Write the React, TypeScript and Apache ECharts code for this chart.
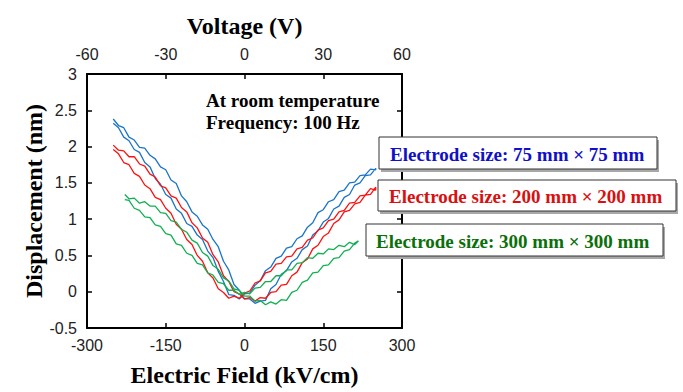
import React, { useEffect, useRef } from "react";
import * as echarts from "echarts";

// Electric field sample positions (kV/cm)
const fieldBR: number[] = [
  -250, -240, -230, -220, -210, -200, -190, -180, -170, -160, -150, -140, -130, -120, -110, -100,
  -90, -80, -70, -60, -50, -40, -30, -20, -10, 0, 10, 20, 30, 40, 50, 60, 70, 80, 90, 100,
  110, 120, 130, 140, 150, 160, 170, 180, 190, 200, 210, 220, 230, 240, 250,
];
const fieldG: number[] = [
  -228, -220, -210, -200, -190, -180, -170, -160, -150, -140, -130, -120, -110, -100,
  -90, -80, -70, -60, -50, -40, -30, -20, -10, 0, 10, 20, 30, 40, 50, 60, 70, 80, 90, 100,
  110, 120, 130, 140, 150, 160, 170, 180, 190, 200, 210, 217,
];

// 75 mm x 75 mm (nm) : sweep to +E, then back to -E
const blueGo: number[] = [
  2.38, 2.29, 2.26, 2.13, 2.09, 1.99, 1.98, 1.88, 1.83, 1.72, 1.68, 1.54, 1.49, 1.32, 1.24, 1.1,
  1.04, 0.92, 0.86, 0.72, 0.62, 0.42, 0.3, 0.1, 0.02, -0.1, -0.1, -0.16, -0.13, -0.12, 0.04, 0.1,
  0.24, 0.29, 0.41, 0.46, 0.58, 0.63, 0.78, 0.84, 0.96, 1.01, 1.14, 1.18, 1.3, 1.34, 1.47, 1.5,
  1.6, 1.61, 1.7,
];
const blueBack: number[] = [
  2.32, 2.26, 2.13, 2.08, 1.96, 1.92, 1.78, 1.72, 1.56, 1.48, 1.34, 1.29, 1.14, 1.08, 0.94, 0.9,
  0.78, 0.72, 0.56, 0.47, 0.28, 0.14, -0.04, -0.05, -0.1, -0.03, -0.02, 0.09, 0.15, 0.29, 0.34,
  0.46, 0.49, 0.6, 0.62, 0.73, 0.77, 0.89, 0.95, 1.09, 1.13, 1.24, 1.27, 1.38, 1.4, 1.5, 1.51,
  1.6, 1.61, 1.69, 1.68,
];

// 200 mm x 200 mm (nm)
const redGo: number[] = [
  2.02, 1.95, 1.94, 1.86, 1.86, 1.76, 1.73, 1.62, 1.58, 1.46, 1.43, 1.32, 1.29, 1.16, 1.1, 0.95,
  0.88, 0.74, 0.68, 0.51, 0.41, 0.22, 0.14, 0.0, -0.03, -0.1, -0.08, -0.13, -0.08, -0.09, -0.01,
  0.0, 0.09, 0.1, 0.22, 0.27, 0.4, 0.45, 0.59, 0.64, 0.76, 0.81, 0.94, 0.99, 1.1, 1.12, 1.21,
  1.23, 1.33, 1.34, 1.44,
];
const redBack: number[] = [
  1.96, 1.9, 1.78, 1.75, 1.63, 1.59, 1.47, 1.42, 1.3, 1.27, 1.15, 1.08, 0.93, 0.86, 0.72, 0.65,
  0.5, 0.42, 0.26, 0.19, 0.04, -0.01, -0.09, -0.06, -0.09, -0.02, 0.01, 0.12, 0.15, 0.26, 0.28,
  0.38, 0.39, 0.48, 0.49, 0.59, 0.61, 0.71, 0.74, 0.85, 0.88, 0.98, 1.0, 1.1, 1.12, 1.22, 1.23,
  1.32, 1.33, 1.42, 1.4,
];

// 300 mm x 300 mm (nm)
const greenGo: number[] = [
  1.34, 1.28, 1.29, 1.22, 1.24, 1.18, 1.18, 1.09, 1.08, 0.98, 0.96, 0.86, 0.82, 0.71, 0.67, 0.54,
  0.49, 0.36, 0.31, 0.19, 0.15, 0.04, 0.02, -0.06, -0.06, -0.13, -0.12, -0.18, -0.14, -0.17,
  -0.11, -0.12, -0.01, 0.02, 0.13, 0.16, 0.26, 0.27, 0.36, 0.37, 0.46, 0.47, 0.56, 0.58, 0.67, 0.7,
];
const greenBack: number[] = [
  1.27, 1.26, 1.15, 1.12, 1.03, 1.02, 0.92, 0.9, 0.8, 0.78, 0.66, 0.64, 0.53, 0.5, 0.39, 0.37,
  0.26, 0.23, 0.13, 0.11, 0.02, 0.02, -0.04, -0.01, -0.03, 0.05, 0.06, 0.14, 0.14, 0.22, 0.22,
  0.3, 0.3, 0.39, 0.4, 0.47, 0.46, 0.53, 0.52, 0.59, 0.58, 0.64, 0.62, 0.68, 0.65, 0.7,
];

const seriesNames: string[] = ["75 mm × 75 mm", "200 mm × 200 mm", "300 mm × 300 mm"];
const legendTexts: string[] = [
  "Electrode size: 75 mm × 75 mm",
  "Electrode size: 200 mm × 200 mm",
  "Electrode size: 300 mm × 300 mm",
];
const fieldTicks = { min: -300, max: 300, interval: 150 };
const voltageTicks = { min: -60, max: 60, interval: 30 };
const dispTicks = { min: -0.5, max: 3, interval: 0.5 };

function loop(x: number[], go: number[], back: number[]): number[][] {
  const out: number[][] = [];
  for (let i = 0; i < x.length; i++) out.push([x[i], go[i]]);
  for (let i = x.length - 1; i >= 0; i--) out.push([x[i], back[i]]);
  return out;
}

const TICK_FONT = "'Liberation Sans Narrow', 'Liberation Sans', Arial, sans-serif";
const TITLE_FONT = "'Liberation Serif', 'Times New Roman', serif";

export default function App() {
  const ref = useRef<HTMLDivElement>(null);
  useEffect(() => {
    if (!ref.current) return;
    const chart = echarts.init(ref.current, null, { renderer: "svg" });
    const axisLabel = { fontFamily: TICK_FONT, fontSize: 16, color: "#222" };
    const axisLine = { show: true, onZero: false, lineStyle: { color: "#000", width: 2 } };
    const axisTick = { show: true, inside: true, length: 5, lineStyle: { color: "#000", width: 1.5 } };
    const nameStyle = { fontFamily: TITLE_FONT, fontWeight: "bold" as const, fontSize: 24, color: "#000" };

    const boxes = [
      { x: 379, y: 137, w: 278, h: 32, color: "#1010C8", tx: 390 },
      { x: 378, y: 180, w: 298, h: 31, color: "#D81010", tx: 389 },
      { x: 366, y: 224, w: 297, h: 32, color: "#0A700A", tx: 376 },
    ];
    const graphics: any[] = [];
    boxes.forEach((b, i) => {
      graphics.push({
        type: "rect",
        z: 100,
        shape: { x: b.x + 2, y: b.y + 3, width: b.w, height: b.h },
        style: { fill: "#a8a8a8" },
      });
      graphics.push({
        type: "rect",
        z: 101,
        shape: { x: b.x, y: b.y, width: b.w, height: b.h },
        style: { fill: "#fff", stroke: "#333", lineWidth: 1 },
      });
      graphics.push({
        type: "text",
        z: 102,
        x: b.tx,
        y: b.y + b.h / 2 + 1,
        style: {
          text: legendTexts[i],
          font: `bold 19px ${TITLE_FONT}`,
          fill: b.color,
          verticalAlign: "middle",
        },
      });
    });
    graphics.push({
      type: "text",
      z: 50,
      x: 206,
      y: 100,
      style: { text: "At room temperature", font: `bold 19px ${TITLE_FONT}`, fill: "#000", verticalAlign: "middle" },
    });
    graphics.push({
      type: "text",
      z: 50,
      x: 206,
      y: 122,
      style: { text: "Frequency: 100 Hz", font: `bold 19px ${TITLE_FONT}`, fill: "#000", verticalAlign: "middle" },
    });

    chart.setOption({
      animation: false,
      grid: { left: 87, top: 74, width: 315, height: 258, containLabel: false },
      xAxis: [
        {
          type: "value",
          position: "bottom",
          ...fieldTicks,
          name: "Electric Field (kV/cm)",
          nameLocation: "middle",
          nameGap: 35,
          nameTextStyle: nameStyle,
          axisLine,
          axisTick,
          axisLabel: { ...axisLabel, margin: 9 },
          splitLine: { show: false },
        },
        {
          type: "value",
          position: "top",
          ...voltageTicks,
          name: "Voltage (V)",
          nameLocation: "middle",
          nameGap: 36,
          nameTextStyle: nameStyle,
          axisLine,
          axisTick,
          axisLabel: { ...axisLabel, margin: 12 },
          splitLine: { show: false },
        },
      ],
      yAxis: [
        {
          type: "value",
          position: "left",
          ...dispTicks,
          name: "Displacement (nm)",
          nameLocation: "middle",
          nameGap: 40,
          nameTextStyle: nameStyle,
          axisLine,
          axisTick,
          axisLabel: { ...axisLabel, margin: 10 },
          splitLine: { show: false },
        },
        {
          type: "value",
          position: "right",
          ...dispTicks,
          axisLine,
          axisTick,
          axisLabel: { show: false },
          splitLine: { show: false },
        },
      ],
      series: [
        {
          name: seriesNames[0],
          type: "line",
          showSymbol: false,
          data: loop(fieldBR, blueGo, blueBack),
          lineStyle: { color: "#1A74C8", width: 1.3 },
          itemStyle: { color: "#1A74C8" },
          z: 3,
        },
        {
          name: seriesNames[1],
          type: "line",
          showSymbol: false,
          data: loop(fieldBR, redGo, redBack),
          lineStyle: { color: "#FF1010", width: 1.3 },
          itemStyle: { color: "#FF1010" },
          z: 4,
        },
        {
          name: seriesNames[2],
          type: "line",
          showSymbol: false,
          data: loop(fieldG, greenGo, greenBack),
          lineStyle: { color: "#10B050", width: 1.3 },
          itemStyle: { color: "#10B050" },
          z: 5,
        },
      ],
      graphic: graphics,
    });
    return () => chart.dispose();
  }, []);
  return <div ref={ref} style={{ width: 683, height: 392, position: "absolute", left: 0, top: 0 }} />;
}
